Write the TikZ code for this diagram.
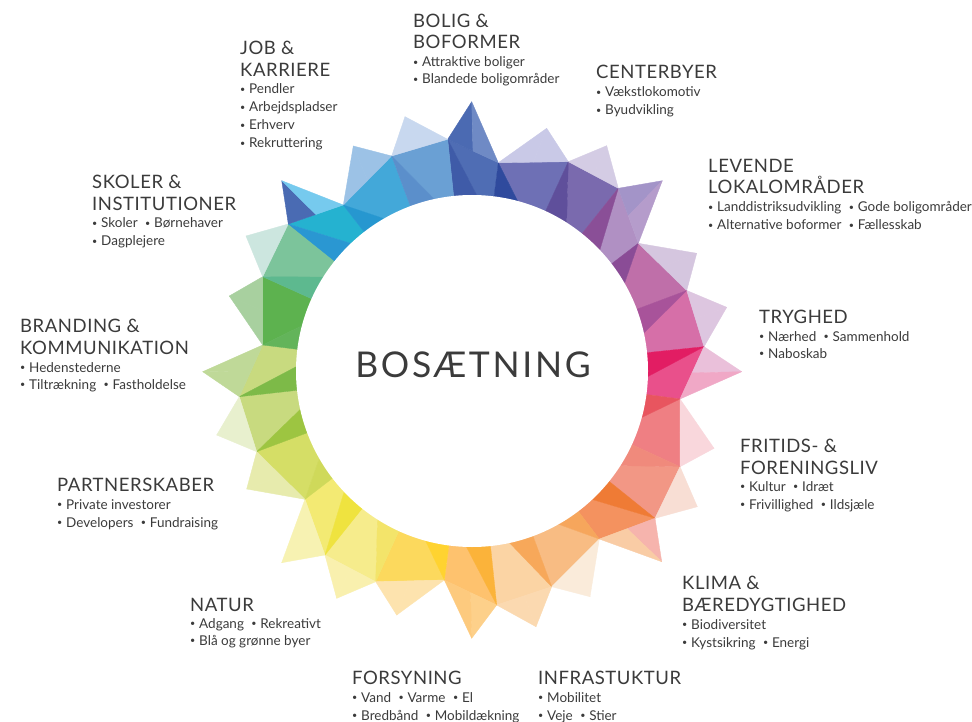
\documentclass[tikz,border=0pt]{standalone}
\usepackage{fontspec}
\setmainfont{Lato}
\usetikzlibrary{calc}
\definecolor{txt}{HTML}{3B3B3B}
\newcommand{\bul}{{\fontsize{9}{9}\selectfont\raisebox{0.13em}{•}}\hspace{0.28em}}
\newcommand{\bsep}{\hspace{0.55em}\bul}
\newcommand{\seg}[6]{%
  \definecolor{cA}{HTML}{#3}\definecolor{cB}{HTML}{#4}%
  \definecolor{cC}{HTML}{#5}\definecolor{cD}{HTML}{#6}%
  \coordinate (M#1) at ($(V#2)!0.5!(V#1)$);
  \filldraw[facet,fill=cC,draw=cC] (V#2) -- (V#1) -- (I#1) -- cycle;
  \filldraw[facet,fill=cD,draw=cD] (V#2) -- (I#1) -- (I#2) -- cycle;
  \filldraw[facet,fill=cA,draw=cA] (V#2) -- (T#1) -- (M#1) -- cycle;
  \filldraw[facet,fill=cB,draw=cB] (M#1) -- (T#1) -- (V#1) -- cycle;
}
\begin{document}
\begin{tikzpicture}[x=1pt,y=-1pt,
  facet/.style={line width=0.35pt,line join=round},
  hd/.style={anchor=base west,inner sep=0pt,text=txt,font=\fontsize{18.5}{22}\selectfont\addfontfeatures{LetterSpace=3}},
  it/.style={anchor=base west,inner sep=0pt,text=txt,font=\fontsize{13.5}{18}\selectfont}]
\fill[white] (0,0) rectangle (972,722);
\useasboundingbox (0,0) rectangle (972,722);
\coordinate (C) at (472,371);
\foreach \i/\tx/\ty/\vx/\vy in {
 0/471.7/101.7/498.3/162.7, 1/546.7/128.3/568.3/161.7, 2/606.7/145.7/618.3/188.3,
 3/662.3/180.7/638.3/243.3, 4/696.7/253.3/686.7/290.5, 5/726.7/307.3/704/346.7,
 6/741.7/371.7/680/399, 7/714/448.3/680/466.7, 8/697.3/506.7/655/518.3,
 9/661.7/561.7/599.3/539, 10/590/596.7/551.7/586.7, 11/536/626.7/496.7/605,
 12/471.7/638.3/444.3/580, 13/396.7/615/375.7/581.7, 14/336.7/598.3/325/555,
 15/281.7/562.7/305/499.3, 16/246.7/489/256.7/451.7, 17/216.7/435/239.3/396.7,
 18/202.7/371.7/262.7/345, 19/229.3/296/262.7/276.7, 20/246/236/288.3/224,
 21/281.7/180.7/343.3/205, 22/353.3/146/391.7/156, 23/405/116.7/447.7/139.3}
{\coordinate (T\i) at (\tx,\ty); \coordinate (V\i) at (\vx,\vy);
 \coordinate (I\i) at ($(C)!150pt!(V\i)$);}
\seg{0}{23}{4B6AB2}{6F8AC5}{4F6DB4}{3F5BA8}
\seg{1}{0}{C9C9E7}{C9C9E7}{6E70B5}{2F4A9D}
\seg{2}{1}{D4CCE4}{D4CCE4}{7A6AAE}{5F4F9B}
\seg{3}{2}{A394C8}{B59CCB}{B090C3}{8A4F97}
\seg{4}{3}{D5C6DF}{D5C6DF}{BF6FA9}{8A4C96}
\seg{5}{4}{DDC6E0}{DDC6E0}{D66FA8}{A8539A}
\seg{6}{5}{EAC0DA}{F0A8C6}{E9508B}{E21D63}
\seg{7}{6}{F9D7DC}{F9D7DC}{EF7F83}{E8555F}
\seg{8}{7}{F8DED4}{F8DED4}{F29785}{F08A7C}
\seg{9}{8}{F6B4AD}{F9CCA5}{F4925F}{EF7B35}
\seg{10}{9}{FAEBDA}{FAEBDA}{F8BC83}{F6A65C}
\seg{11}{10}{FBD9B0}{FBD9B0}{FBD4A4}{F7A85A}
\seg{12}{11}{FDD08A}{FDCA7E}{FEC26E}{FBB33A}
\seg{13}{12}{FDE3AE}{FDE3AE}{FCD95D}{FFD330}
\seg{14}{13}{F9F0AE}{F9F0AE}{F6EC8C}{F3E46A}
\seg{15}{14}{F7F2B2}{F7F2B2}{F3EA73}{EFE33F}
\seg{16}{15}{E7EBAD}{E7EBAD}{D5DE66}{CFD95A}
\seg{17}{16}{E8F0CE}{E8F0CE}{C8DA7F}{9DC541}
\seg{18}{17}{BFD998}{BFD998}{C8DA7F}{7DBA48}
\seg{19}{18}{A8D09F}{A8D09F}{5DB24F}{63B45A}
\seg{20}{19}{CCE6DF}{CCE6DF}{7CC49B}{5DB98F}
\seg{21}{20}{4A6BB3}{76CAEE}{25B2D0}{2A97D2}
\seg{22}{21}{9CC2E6}{9CC2E6}{43A8D9}{2697D0}
\seg{23}{22}{C8D8EF}{C8D8EF}{6AA0D4}{5B8FCB}
\fill[white] (C) circle (176);
\node[anchor=base,inner sep=0pt,text=txt,font=\fontsize{35.5}{40}\selectfont\addfontfeatures{LetterSpace=7.5}] (title) at (473,377) {BOSÆTNING};
% BOLIG
\node[hd] (bo1) at (413,28) {BOLIG \&};
\node[hd] (bo2) at (413,49) {BOFORMER};
\node[it] (bo3) at (413,67) {\bul Attraktive boliger};
\node[it] (bo4) at (413,84) {\bul Blandede boligområder};
% JOB
\node[hd] (jo1) at (240,55) {JOB \&};
\node[hd] (jo2) at (240,77) {KARRIERE};
\node[it] (jo3) at (240,94) {\bul Pendler};
\node[it] (jo4) at (240,112) {\bul Arbejdspladser};
\node[it] (jo5) at (240,130) {\bul Erhverv};
\node[it] (jo6) at (240,148) {\bul Rekruttering};
% CENTERBYER
\node[hd] (ce1) at (596,79) {CENTERBYER};
\node[it] (ce2) at (596,97) {\bul Vækstlokomotiv};
\node[it] (ce3) at (596,115) {\bul Byudvikling};
% LEVENDE
\node[hd] (le1) at (708,173) {LEVENDE};
\node[hd] (le2) at (708,194) {LOKALOMRÅDER};
\node[it] (le3) at (708,212) {\bul Landdistriksudvikling\bsep Gode boligområder};
\node[it] (le4) at (708,230) {\bul Alternative boformer\bsep Fællesskab};
% TRYGHED
\node[hd] (tr1) at (759,323) {TRYGHED};
\node[it] (tr2) at (759,341) {\bul Nærhed\bsep Sammenhold};
\node[it] (tr3) at (759,358) {\bul Naboskab};
% FRITIDS
\node[hd] (fr1) at (740,452) {FRITIDS- \&};
\node[hd] (fr2) at (740,474) {FORENINGSLIV};
\node[it] (fr3) at (740,491) {\bul Kultur\bsep Idræt};
\node[it] (fr4) at (740,509) {\bul Frivillighed\bsep Ildsjæle};
% KLIMA
\node[hd] (kl1) at (682,589) {KLIMA \&};
\node[hd] (kl2) at (682,611) {BÆREDYGTIGHED};
\node[it] (kl3) at (682,629) {\bul Biodiversitet};
\node[it] (kl4) at (682,647) {\bul Kystsikring\bsep Energi};
% INFRASTUKTUR
\node[hd] (in1) at (538,684) {INFRASTUKTUR};
\node[it] (in2) at (538,702) {\bul Mobilitet};
\node[it] (in3) at (538,720) {\bul Veje\bsep Stier};
% FORSYNING
\node[hd] (fo1) at (352,684) {FORSYNING};
\node[it] (fo2) at (352,702) {\bul Vand\bsep Varme\bsep El};
\node[it] (fo3) at (352,720) {\bul Bredbånd\bsep Mobildækning};
% NATUR
\node[hd] (na1) at (190,611) {NATUR};
\node[it] (na2) at (190,628) {\bul Adgang\bsep Rekreativt};
\node[it] (na3) at (190,645) {\bul Blå og grønne byer};
% PARTNERSKABER
\node[hd] (pa1) at (57,491) {PARTNERSKABER};
\node[it] (pa2) at (57,509) {\bul Private investorer};
\node[it] (pa3) at (57,527) {\bul Developers\bsep Fundraising};
% BRANDING
\node[hd] (br1) at (20,332) {BRANDING \&};
\node[hd] (br2) at (20,354) {KOMMUNIKATION};
\node[it] (br3) at (20,372) {\bul Hedenstederne};
\node[it] (br4) at (20,389) {\bul Tiltrækning\bsep Fastholdelse};
% SKOLER
\node[hd] (sk1) at (92,189) {SKOLER \&};
\node[hd] (sk2) at (92,211) {INSTITUTIONER};
\node[it] (sk3) at (92,228) {\bul Skoler\bsep Børnehaver};
\node[it] (sk4) at (92,246) {\bul Dagplejere};
\end{tikzpicture}
\end{document}
